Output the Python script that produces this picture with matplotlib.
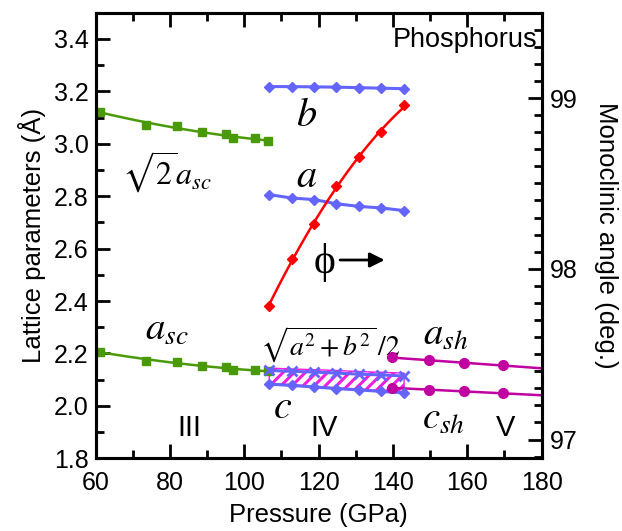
import numpy as np
import matplotlib
matplotlib.use("Agg")
import matplotlib.pyplot as plt
from matplotlib.ticker import MultipleLocator

plt.rcParams["font.family"] = ["Liberation Sans", "DejaVu Sans"]
plt.rcParams["mathtext.fontset"] = "stix"
plt.rcParams["hatch.linewidth"] = 2.2

# phase III (simple cubic)
p_sc = [61.2, 73.5, 82.0, 88.6, 95.0, 97.0, 102.8, 106.5]
sqrt2_asc = [3.123, 3.072, 3.066, 3.043, 3.039, 3.021, 3.021, 3.009]
a_sc = [2.206, 2.173, 2.168, 2.152, 2.148, 2.136, 2.136, 2.132]

# phase IV (monoclinic)
p_iv = [106.7, 112.7, 118.8, 124.8, 130.9, 136.9, 143.0]
b_iv = [3.218, 3.218, 3.217, 3.216, 3.214, 3.212, 3.210]
a_iv = [2.806, 2.793, 2.787, 2.771, 2.761, 2.755, 2.745]
c_iv = [2.083, 2.078, 2.072, 2.066, 2.061, 2.055, 2.050]
avg_ab = [2.135, 2.132, 2.129, 2.125, 2.121, 2.118, 2.114]
band_lo = [2.086, 2.081, 2.075, 2.069, 2.064, 2.058, 2.053]
band_hi = [2.144, 2.141, 2.138, 2.135, 2.131, 2.128, 2.125]
phi_iv = [97.783, 98.057, 98.264, 98.487, 98.656, 98.800, 98.957]

# phase V (simple hexagonal)
p_sh = [139.7, 149.7, 159.0, 169.7]
a_sh = [2.185, 2.174, 2.163, 2.155]
c_sh = [2.069, 2.062, 2.055, 2.048]

green = "#4a9a08"
blue = "#6464ff"
red = "#ff0000"
mag = "#c000a0"
pink = "#f01ee0"

fig = plt.figure(figsize=(6.22, 5.31), dpi=100)
ax = fig.add_axes([0.1539, 0.1369, 0.7168, 0.8392])
ax2 = ax.twinx()

# fitted curves for phase III
xs = np.linspace(60, p_sc[-1], 100)
for vals in (sqrt2_asc, a_sc):
    cf = np.polyfit(p_sc, vals, 2)
    ax.plot(xs, np.polyval(cf, xs), color=green, lw=1.8, zorder=3)
    ax.plot(p_sc, vals, "s", color=green, ms=6, zorder=4)

# hatched band
ax.fill_between(p_iv, band_lo, band_hi, facecolor="white", edgecolor=pink,
                hatch="///", linewidth=1.0, zorder=2)

ax.plot(p_iv, b_iv, "D-", color=blue, lw=2.2, ms=5.5, zorder=4)
ax.plot(p_iv, a_iv, "D-", color=blue, lw=2.2, ms=5.5, zorder=4)
ax.plot(p_iv, c_iv, "D-", color=blue, lw=2.2, ms=5.5, zorder=4)
ax.plot(p_iv, avg_ab, "x-", color=blue, lw=2.2, ms=7, mew=2, zorder=4)

# phase V
xsh = np.linspace(p_sh[0], 180, 50)
for vals in (a_sh, c_sh):
    cf = np.polyfit(p_sh, vals, 1)
    ax.plot(xsh, np.polyval(cf, xsh), color=mag, lw=1.8, zorder=3)
    ax.plot(p_sh, vals, "o", color=mag, ms=7, zorder=4)

# monoclinic angle on right axis
xp = np.linspace(p_iv[0], p_iv[-1], 100)
cf = np.polyfit(p_iv, phi_iv, 2)
ax2.plot(xp, np.polyval(cf, xp), color=red, lw=1.8)
ax2.plot(p_iv, phi_iv, "D", color=red, ms=5)

ax.set_xlim(60, 180)
ax.set_ylim(1.8, 3.5)
ax2.set_ylim(96.89, 99.5)

ax.xaxis.set_major_locator(MultipleLocator(20))
ax.xaxis.set_minor_locator(MultipleLocator(10))
ax.yaxis.set_major_locator(MultipleLocator(0.2))
ax.yaxis.set_minor_locator(MultipleLocator(0.1))
ax.yaxis.set_major_formatter(plt.FormatStrFormatter("%.1f"))
ax2.yaxis.set_major_locator(MultipleLocator(1))
ax2.yaxis.set_minor_locator(MultipleLocator(0.1))

ax.tick_params(which="both", direction="in", top=True, right=False,
               width=2, labelsize=18)
ax.tick_params(which="major", length=10)
ax.tick_params(which="minor", length=6)
ax.tick_params(axis="x", which="major", pad=9)
ax.tick_params(axis="y", which="major", pad=5)
ax2.tick_params(which="both", direction="in", width=2, labelsize=18)
ax2.tick_params(which="major", length=10, pad=6)
ax2.tick_params(which="minor", length=6)
for a_ in (ax, ax2):
    for s in a_.spines.values():
        s.set_linewidth(2.2)

ax.set_xlabel("Pressure (GPa)", fontsize=18.5, labelpad=6)
ax.set_ylabel("Lattice parameters (\u00c5)", fontsize=18.5, labelpad=6)
ax2.set_ylabel("Monoclinic angle (deg.)", fontsize=18.5, rotation=270,
               labelpad=29)

# annotations
tr = ax.transAxes
ax.text(0.99, 0.939, "Phosphorus", transform=tr, ha="right", va="center",
        fontsize=19.5)
ax.text(0.473, 0.770, r"$b$", transform=tr, ha="center", va="center", fontsize=29)
ax.text(0.473, 0.634, r"$a$", transform=tr, ha="center", va="center", fontsize=29)
ax.text(0.058, 0.643, r"$\sqrt{2}a_{sc}$", transform=tr, ha="left",
        va="center", fontsize=23)
ax.text(0.111, 0.288, r"$a_{sc}$", transform=tr, ha="left", va="center",
        fontsize=28)
ax.text(0.368, 0.254, r"$\sqrt{a^2+b^2}\,/2$", transform=tr, ha="left",
        va="center", fontsize=20)
ax.text(0.42, 0.116, r"$c$", transform=tr, ha="center", va="center", fontsize=29)
ax.text(0.734, 0.278, r"$a_{sh}$", transform=tr, ha="left", va="center",
        fontsize=28)
ax.text(0.732, 0.088, r"$c_{sh}$", transform=tr, ha="left", va="center",
        fontsize=28)
for x, s in ((0.209, "III"), (0.512, "IV"), (0.92, "V")):
    ax.text(x, 0.068, s, transform=tr, ha="center", va="center", fontsize=21)

ax.text(0.514, 0.440, "\u03d5", transform=tr, ha="center", va="center",
        fontsize=30, family=["Liberation Serif", "DejaVu Serif"])
ax.annotate("", xy=(0.648, 0.445), xytext=(0.548, 0.445), xycoords=tr,
            textcoords=tr,
            arrowprops=dict(arrowstyle="-|>", lw=2, color="black",
                            mutation_scale=22, shrinkA=0, shrinkB=0))

fig.savefig("out.png", dpi=100)
